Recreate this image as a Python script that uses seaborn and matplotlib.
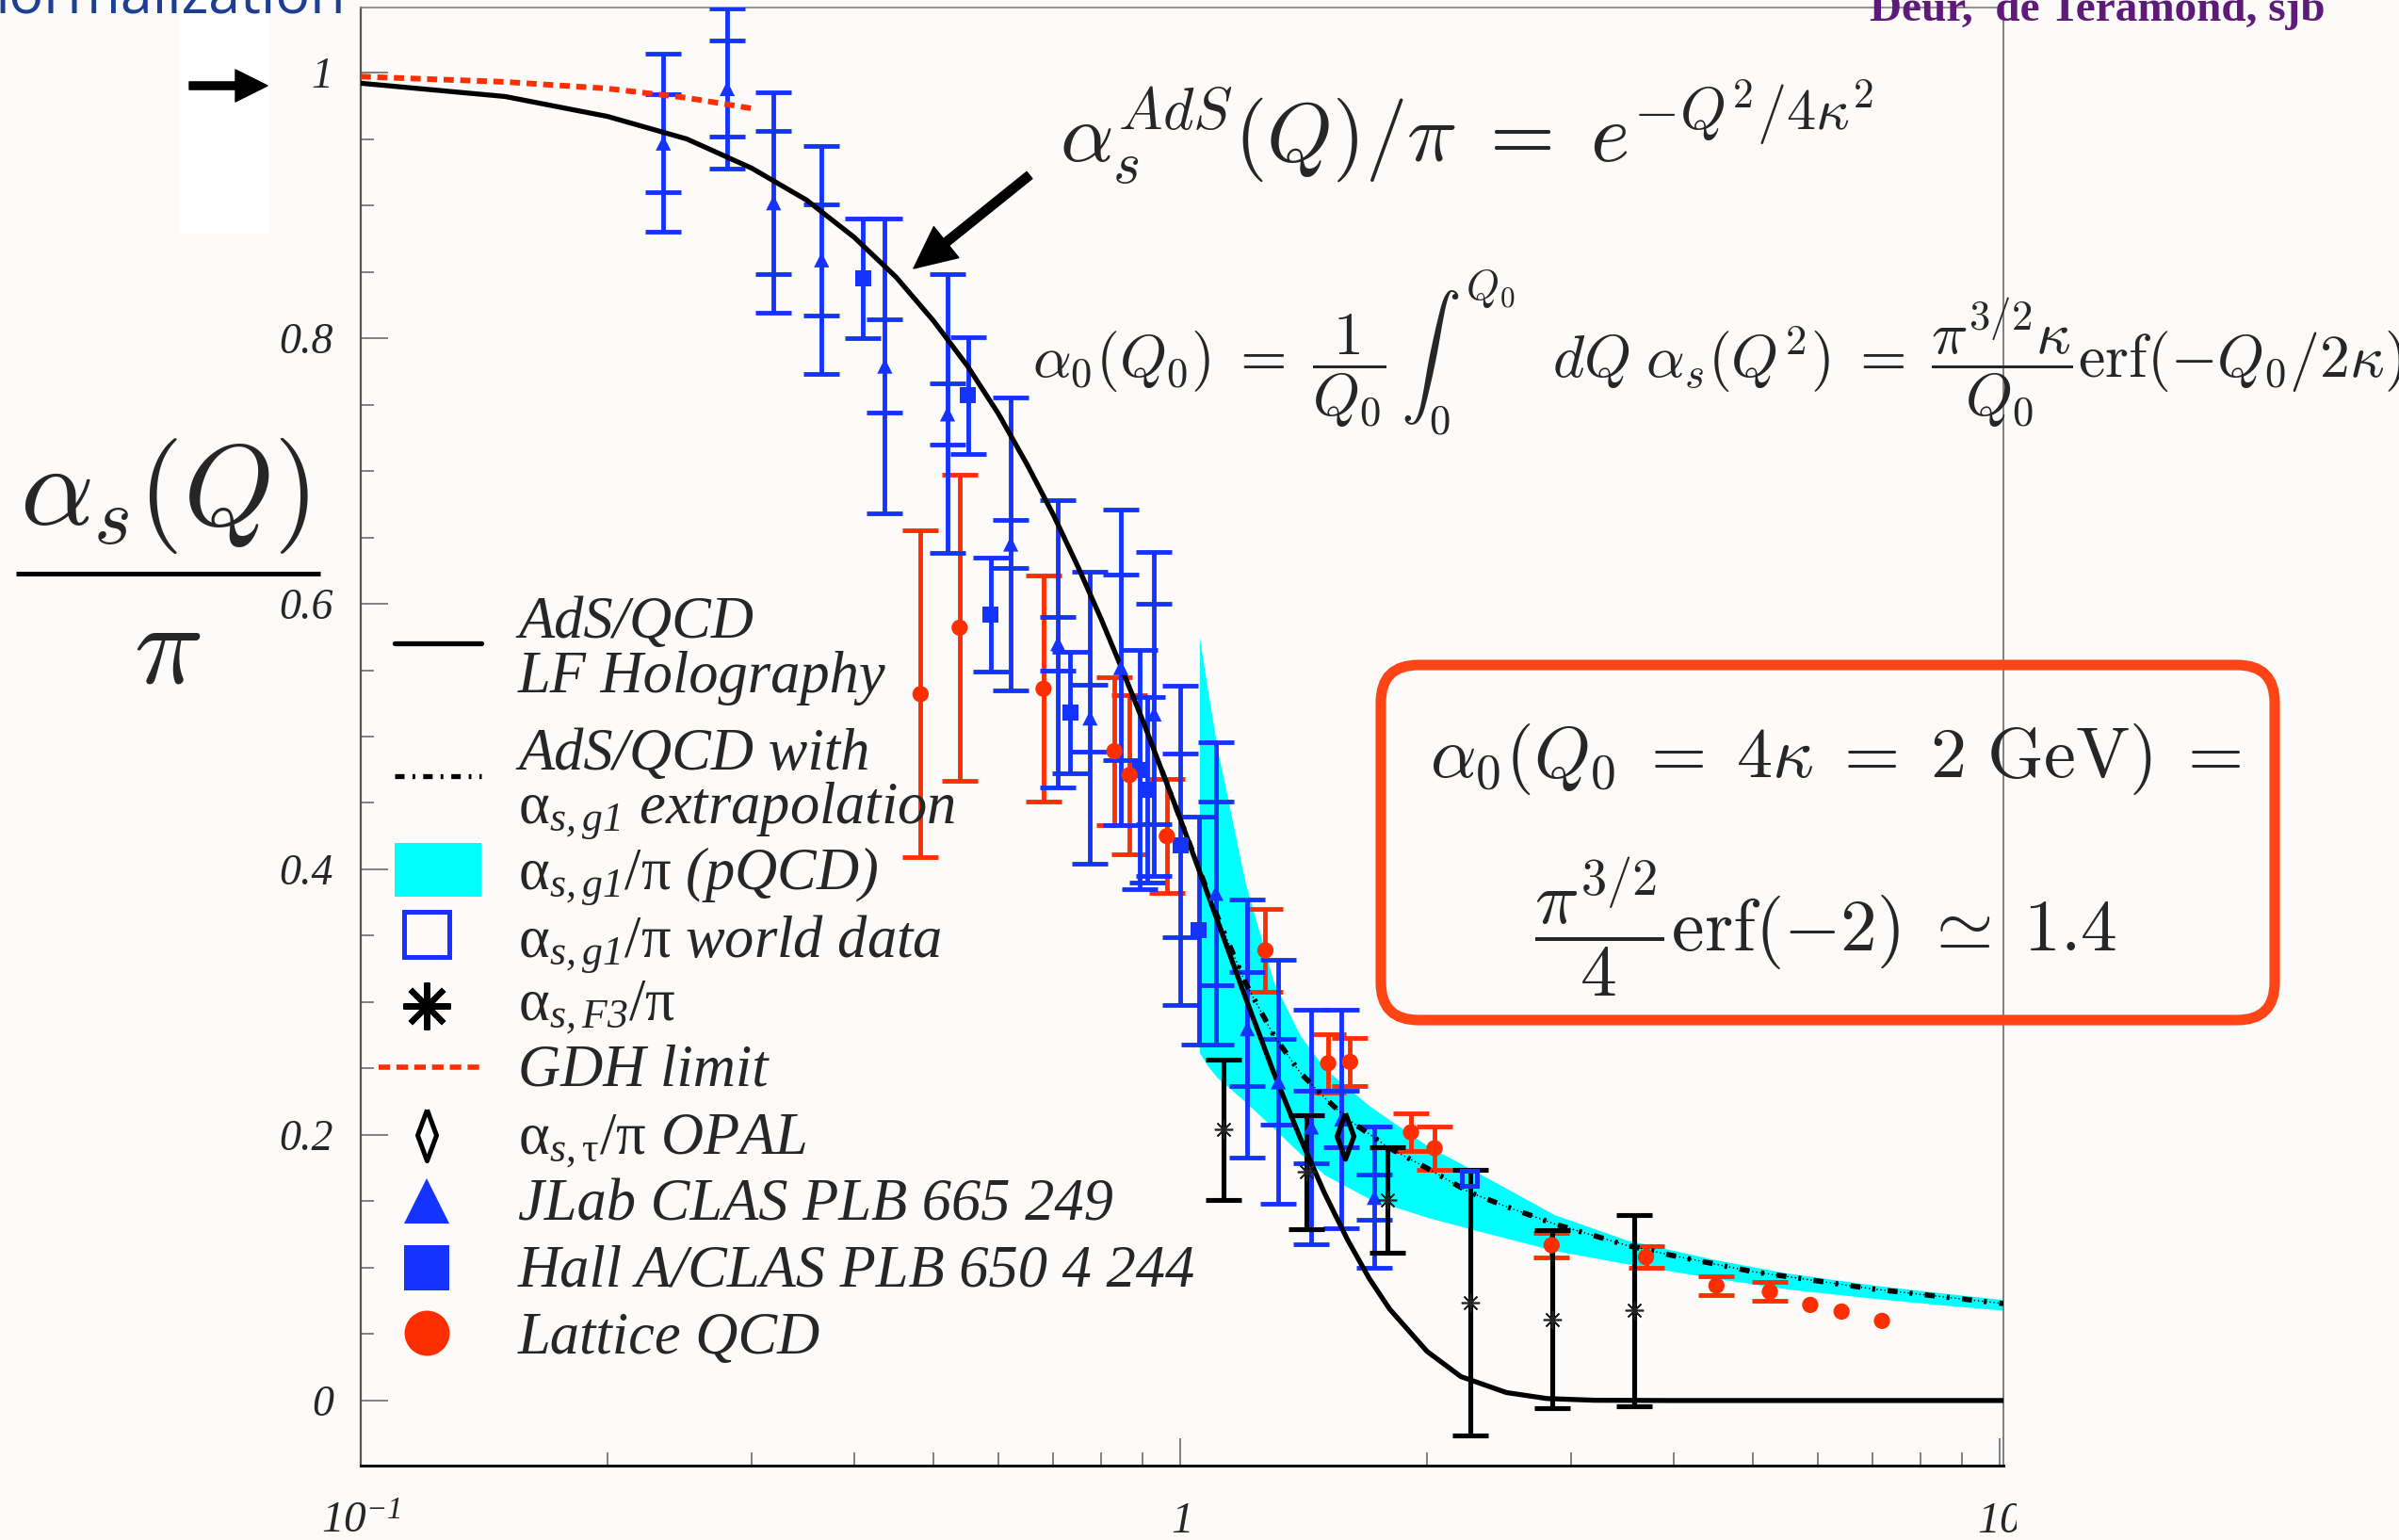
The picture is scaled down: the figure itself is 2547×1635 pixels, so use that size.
import matplotlib
matplotlib.use("Agg")
import matplotlib.pyplot as plt
import seaborn as sns
from matplotlib.lines import Line2D
from matplotlib.patches import FancyArrowPatch, FancyBboxPatch, Rectangle
from matplotlib.transforms import IdentityTransform

W, H, DPI = 2547, 1635, 100
BG = "#fcfbf9"
BLUE = "#1433ff"
RED = "#ff2e00"
CYAN = "#00ffff"
FRAME_RED = "#ff4516"
PURPLE = "#5e1a78"
NAVY = "#1c3f94"

# ---------------- theory curves ----------------
# AdS/QCD light-front holography prediction
q_ads = [0.1, 0.15, 0.2, 0.25, 0.3, 0.35, 0.4, 0.45, 0.5, 0.55, 0.6, 0.65, 0.7,
         0.75, 0.8, 0.85, 0.9, 0.95, 1.0, 1.1, 1.2, 1.3, 1.4, 1.5, 1.6, 1.7,
         1.8, 2.0, 2.2, 2.5, 2.8, 3.2, 4.0, 6.0, 10.1]
ads_val = [0.992, 0.982, 0.967, 0.950, 0.928, 0.904, 0.876, 0.846, 0.813, 0.779,
           0.743, 0.705, 0.667, 0.628, 0.589, 0.550, 0.512, 0.474, 0.438, 0.368,
           0.304, 0.247, 0.198, 0.156, 0.121, 0.092, 0.069, 0.037, 0.018, 0.006,
           0.0015, 0.0002, 0.0, 0.0, 0.0]

# AdS/QCD matched to the alpha_s,g1 extrapolation
q_ext = [0.95, 1.0, 1.1, 1.2, 1.3, 1.4, 1.5, 1.6, 1.8, 2.0, 2.25, 2.5, 2.86,
         3.5, 4.0, 5.0, 6.0, 7.0, 8.0, 10.1]
ext_val = [0.474, 0.438, 0.370, 0.315, 0.275, 0.247, 0.228, 0.212, 0.190, 0.175,
           0.157, 0.146, 0.133, 0.117, 0.109, 0.097, 0.090, 0.084, 0.080, 0.073]

# GDH sum-rule limit
q_gdh = [0.1, 0.15, 0.2, 0.25, 0.3]
gdh_val = [0.997, 0.993, 0.988, 0.981, 0.973]

# pQCD band for alpha_s,g1/pi
q_band = [1.055, 1.08, 1.11, 1.15, 1.2, 1.3, 1.4, 1.5, 1.7, 2.0, 2.3, 2.86,
          3.5, 4.5, 5.5, 7.0, 8.5, 10.1]
band_hi = [0.575, 0.535, 0.490, 0.445, 0.390, 0.315, 0.275, 0.250, 0.222, 0.192,
           0.172, 0.140, 0.121, 0.106, 0.096, 0.087, 0.081, 0.076]
band_lo = [0.262, 0.252, 0.243, 0.235, 0.225, 0.205, 0.186, 0.170, 0.152, 0.138,
           0.128, 0.113, 0.103, 0.092, 0.084, 0.077, 0.072, 0.068]

# ---------------- measurements ----------------
clas_q = [0.234, 0.280, 0.319, 0.365, 0.436, 0.520, 0.621, 0.709, 0.776, 0.846,
          0.929, 1.105, 1.207, 1.317, 1.445, 1.573, 1.725]
clas_val = [0.947, 0.988, 0.902, 0.859, 0.779, 0.743, 0.645, 0.570, 0.514, 0.552,
            0.517, 0.382, 0.280, 0.240, 0.206, 0.212, 0.153]
clas_stat = [0.037, 0.036, 0.054, 0.042, 0.035, 0.023, 0.018, 0.020, 0.025, 0.070,
             0.083, 0.069, 0.043, 0.032, 0.027, 0.021, 0.017]
clas_tot = [0.067, 0.060, 0.083, 0.086, 0.111, 0.105, 0.110, 0.108, 0.110, 0.119,
            0.122, 0.114, 0.097, 0.092, 0.088, 0.082, 0.053]

halla_q = [0.410, 0.551, 0.587, 0.734, 0.893, 0.912, 1.000, 1.054]
halla_val = [0.845, 0.757, 0.592, 0.518, 0.475, 0.460, 0.418, 0.354]
halla_stat = [0, 0, 0, 0, 0, 0, 0.069, 0]
halla_tot = [0.045, 0.044, 0.043, 0.046, 0.090, 0.070, 0.120, 0.086]

lat_q = [0.482, 0.538, 0.681, 0.831, 0.867, 0.963, 1.270, 1.515, 1.611, 1.912,
         2.043, 2.838, 3.70, 4.51, 5.24, 5.87, 6.41, 7.18]
lat_val = [0.532, 0.582, 0.536, 0.489, 0.471, 0.425, 0.339, 0.254, 0.255, 0.202,
           0.190, 0.117, 0.108, 0.0865, 0.082, 0.072, 0.067, 0.060]
lat_err = [0.123, 0.115, 0.085, 0.056, 0.060, 0.043, 0.031, 0.022, 0.018, 0.014,
           0.016, 0.009, 0.008, 0.007, 0.007, 0, 0, 0]

f3_q = [1.129, 1.426, 1.791, 2.26, 2.84, 3.58]
f3_val = [0.204, 0.172, 0.151, 0.074, 0.061, 0.068]
f3_err = [0.053, 0.043, 0.040, 0.100, 0.067, 0.072]

world_q = [2.254]
world_val = [0.167]

opal_q = [1.589]
opal_val = [0.199]

# axis ticks
x_major = [0.1, 1.0, 10.0]
x_labels = [r"$\mathsf{10}^{\mathsf{-1}}$", r"$\mathsf{1}$", r"$\mathsf{10}$"]
x_minor = [0.2, 0.3, 0.4, 0.5, 0.6, 0.7, 0.8, 0.9, 2, 3, 4, 5, 6, 7, 8, 9]
y_major = [0.0, 0.2, 0.4, 0.6, 0.8, 1.0]
y_labels = ["0", "0.2", "0.4", "0.6", "0.8", "1"]

# ---------------- style ----------------
sns.set_theme(style="ticks")
plt.rcParams["font.family"] = ["Liberation Serif", "DejaVu Serif"]
plt.rcParams.update({
    "mathtext.fontset": "custom",
    "mathtext.rm": "Liberation Serif",
    "mathtext.it": "Liberation Serif:italic",
    "mathtext.sf": "Liberation Serif:italic",
    "mathtext.bf": "Liberation Serif:bold",
    "mathtext.fallback": "cm",
})

fig = plt.figure(figsize=(W / DPI, H / DPI), dpi=DPI, facecolor=BG)


def fx(x):
    return x / W


def fy(y):
    return 1 - y / H


PIX = IdentityTransform()

# white strip behind the left arrow
fig.add_artist(Rectangle((191, H - 248), 94, 248, transform=PIX,
                         facecolor="white", edgecolor="none", zorder=0))

ax = fig.add_axes([fx(383), fy(1556), (2127 - 383) / W, (1556 - 8) / H])
ax.set_facecolor("none")
ax.set_xscale("log")
ax.set_xlim(0.1, 10.1)
ax.set_ylim(-0.049, 1.049)

# pQCD band
ax.fill_between(q_band, band_lo, band_hi, color=CYAN, lw=0, zorder=1)


# error bars
def draw_bars(q, v, err, color, lw, zorder):
    pts = [(a, b, e) for a, b, e in zip(q, v, err) if e > 0]
    ax.errorbar([p[0] for p in pts], [p[1] for p in pts], yerr=[p[2] for p in pts],
                fmt="none", ecolor=color, elinewidth=lw, capsize=14,
                capthick=lw, zorder=zorder)


def draw_inner_ticks(q, v, err, color, lw, zorder):
    pts = [(a, b, e) for a, b, e in zip(q, v, err) if e > 0]
    cont = ax.errorbar([p[0] for p in pts], [p[1] for p in pts],
                       yerr=[p[2] for p in pts], fmt="none", ecolor=color,
                       elinewidth=lw, capsize=14, capthick=lw, zorder=zorder)
    for coll in cont[2]:
        coll.set_visible(False)


draw_bars(lat_q, lat_val, lat_err, RED, 3.5, 3)
draw_bars(clas_q, clas_val, clas_tot, BLUE, 3.5, 3)
draw_inner_ticks(clas_q, clas_val, clas_stat, BLUE, 3.5, 3)
draw_bars(halla_q, halla_val, halla_tot, BLUE, 3.5, 3)
draw_inner_ticks(halla_q, halla_val, halla_stat, BLUE, 3.5, 3)
draw_bars(f3_q, f3_val, f3_err, "black", 3.7, 3)

# theory curves
sns.lineplot(x=q_ext, y=ext_val, ax=ax, color="black", linewidth=1.0,
             linestyle=(0, (1, 2)), sort=False, estimator=None, zorder=4)
sns.lineplot(x=q_ext, y=ext_val, ax=ax, color="black", linewidth=4.0,
             linestyle=(0, (1.9, 2.3, 0.55, 2.4)), sort=False, estimator=None, zorder=4)
sns.lineplot(x=q_ads, y=ads_val, ax=ax, color="black", linewidth=3.8,
             sort=False, estimator=None, zorder=4)
sns.lineplot(x=q_gdh, y=gdh_val, ax=ax, color=RED, linewidth=4.3,
             linestyle=(0, (1.8, 1.15)), sort=False, estimator=None, zorder=4)

# markers
sns.scatterplot(x=clas_q, y=clas_val, marker="^", s=135, color=BLUE,
                edgecolor="none", ax=ax, zorder=5, legend=False)
sns.scatterplot(x=halla_q, y=halla_val, marker="s", s=150, color=BLUE,
                edgecolor="none", ax=ax, zorder=5, legend=False)
sns.scatterplot(x=lat_q, y=lat_val, marker="o", s=155, color=RED,
                edgecolor="none", ax=ax, zorder=5, legend=False)
ax.plot(f3_q, f3_val, ls="none", marker=(8, 2, 0), ms=14, mew=1.2,
        color="#222222", zorder=5)
ax.plot(world_q, world_val, ls="none", marker="s", ms=12, mfc="none",
        mec=BLUE, mew=3.6, zorder=5)
DIAMOND = [(0, 1), (0.37, 0), (0, -1), (-0.37, 0), (0, 1)]
ax.plot(opal_q, opal_val, ls="none", marker=DIAMOND, ms=35, mfc="none",
        mec="black", mew=3.8, zorder=6)

# axes frame and ticks
for side, col, lw in [("left", "#555555", 1.6), ("bottom", "#111111", 2.2),
                      ("top", "#888888", 1.3), ("right", "#777777", 1.3)]:
    ax.spines[side].set_color(col)
    ax.spines[side].set_linewidth(lw)
ax.set_xticks(x_major)
ax.set_xticks(x_minor, minor=True)
ax.set_xticklabels([])
ax.set_xticklabels([], minor=True)
ax.set_yticks(y_major)
ax.set_yticks([0.05 * i for i in range(1, 21) if i % 4 != 0], minor=True)
ax.set_yticklabels(y_labels, fontsize=33, fontstyle="italic", family="Liberation Serif")
ax.tick_params(which="both", direction="in", color="#777777", width=1.3,
               top=False, right=False)
ax.tick_params(which="major", length=21)
ax.tick_params(which="minor", length=10)
ax.tick_params(axis="y", which="major", pad=21)
ax.set_xlabel("")
ax.set_ylabel("")

xt = ax.get_xaxis_transform()
for q, lab in zip(x_major, x_labels):
    ax.text(q, -0.046, lab, transform=xt, ha="center", va="baseline",
            fontsize=34, clip_on=False)

# y-axis title: alpha_s(Q) over pi
fig.text(fx(175), fy(557), r"$\alpha_s(Q)$", math_fontfamily="cm",
         fontsize=88, ha="center", va="baseline")
fig.add_artist(Line2D([fx(17), fx(340)], [fy(609)] * 2, color="black", lw=3.6,
                      solid_capstyle="butt"))
fig.text(fx(178), fy(725), r"$\pi$", math_fontfamily="cm",
         fontsize=88, ha="center", va="baseline")

# formulas
fig.text(fx(1125), fy(172), r"$\alpha_s^{AdS}(Q)/\pi\;=\;e^{-Q^2/4\kappa^2}$",
         math_fontfamily="cm", fontsize=64, ha="left", va="baseline")
fig.text(fx(1096), fy(401),
         r"$\alpha_0(Q_0)\;=\;\dfrac{1}{Q_0}\,\int_0^{Q_0}\ \ dQ\;\alpha_s(Q^2)\;=\;"
         r"\dfrac{\pi^{3/2}\kappa}{Q_0}\mathrm{erf}(-Q_0/2\kappa)$",
         math_fontfamily="cm", fontsize=46, ha="left", va="baseline")

fig.add_artist(FancyArrowPatch((1093, H - 186), (970, H - 285), transform=PIX,
                               arrowstyle="simple,head_length=1.0,head_width=0.95,tail_width=0.21",
                               mutation_scale=32, color="black", shrinkA=0, shrinkB=0))
fig.add_artist(FancyArrowPatch((201, H - 91), (284, H - 91), transform=PIX,
                               arrowstyle="simple,head_length=1.0,head_width=1.0,tail_width=0.24",
                               mutation_scale=24.5, color="black", shrinkA=0, shrinkB=0))

# boxed result
fig.add_artist(FancyBboxPatch((1466, H - 1083), 949, 377, transform=PIX,
                              boxstyle="round,pad=0,rounding_size=40",
                              facecolor="none", edgecolor=FRAME_RED, linewidth=8))
fig.text(fx(1518), fy(825), r"$\alpha_0(Q_0\;=\;4\kappa\;=\;2\ \mathrm{GeV})\;=$",
         math_fontfamily="cm", fontsize=55, ha="left", va="baseline")
fig.text(fx(1629), fy(1010), r"$\dfrac{\pi^{3/2}}{4}\mathrm{erf}(-2)\;\simeq\;1.4$",
         math_fontfamily="cm", fontsize=56, ha="left", va="baseline")

# header texts
fig.text(fx(367), fy(13), "normalization", color=NAVY, family="Open Sans",
         fontsize=44, ha="right", va="baseline")
fig.text(fx(1985), fy(22), "Deur,  de Teramond, sjb", color=PURPLE,
         family="Liberation Serif", fontweight="bold", fontsize=34,
         ha="left", va="baseline")

# legend
LEG_X0, LEG_X1, LEG_MX, TXT_X = 419, 511, 453, 550
fig.add_artist(Line2D([fx(LEG_X0), fx(LEG_X1)], [fy(683)] * 2, color="black", lw=3.8))
fig.add_artist(Line2D([fx(LEG_X0), fx(LEG_X1)], [fy(824)] * 2, color="black", lw=3.8,
                      ls=(0, (1.9, 1.6, 0.55, 1.6))))
fig.add_artist(Rectangle((fx(LEG_X0), fy(952)), (LEG_X1 - LEG_X0) / W, (952 - 895) / H,
                         transform=fig.transFigure, facecolor=CYAN, edgecolor="none"))
fig.add_artist(Line2D([fx(LEG_MX)], [fy(992)], marker="s", ms=34, mfc="none",
                      mec=BLUE, mew=3.6))
fig.add_artist(Line2D([fx(LEG_MX)], [fy(1068)], marker=(8, 2, 0), ms=36,
                      mew=4.5, color="black"))
fig.add_artist(Line2D([fx(402), fx(LEG_X1)], [fy(1133)] * 2, color=RED, lw=4.0,
                      ls=(0, (2.2, 1.2))))
fig.add_artist(Line2D([fx(LEG_MX)], [fy(1205)], marker=DIAMOND, ms=39, mfc="none",
                      mec="black", mew=3.6))
fig.add_artist(Line2D([fx(LEG_MX)], [fy(1275)], marker="^", ms=34.5, color=BLUE, mew=0))
fig.add_artist(Line2D([fx(LEG_MX)], [fy(1346)], marker="s", ms=34.5, color=BLUE, mew=0))
fig.add_artist(Line2D([fx(LEG_MX)], [fy(1415)], marker="o", ms=34.5, color=RED, mew=0))

legend_rows = [
    ("AdS/QCD", 677),
    ("LF Holography", 735),
    ("AdS/QCD with", 817),
    (r"$\mathrm{\alpha}_{\mathsf{s,g1}}$ extrapolation", 873),
    (r"$\mathrm{\alpha}_{\mathsf{s,g1}}\mathrm{/\pi}$ (pQCD)", 943),
    (r"$\mathrm{\alpha}_{\mathsf{s,g1}}\mathrm{/\pi}$ world data", 1015),
    (r"$\mathrm{\alpha}_{\mathsf{s,F3}}\mathrm{/\pi}$", 1083),
    ("GDH limit", 1152),
    (r"$\mathrm{\alpha}_{\mathsf{s},\mathrm{\tau}}\mathrm{/\pi}$ OPAL", 1225),
    ("JLab CLAS PLB 665 249", 1295),
    ("Hall A/CLAS PLB 650 4 244", 1365),
    ("Lattice QCD", 1437),
]
for text, yb in legend_rows:
    fig.text(fx(TXT_X), fy(yb), text, fontsize=45, fontstyle="italic",
             family="Liberation Serif", ha="left", va="baseline")

# page edge trims the last tick label
fig.add_artist(Rectangle((2141, 0), W - 2141, H - 1562, transform=PIX,
                         facecolor=BG, edgecolor="none", zorder=10))

fig.savefig("out.png", dpi=DPI, facecolor=BG)
